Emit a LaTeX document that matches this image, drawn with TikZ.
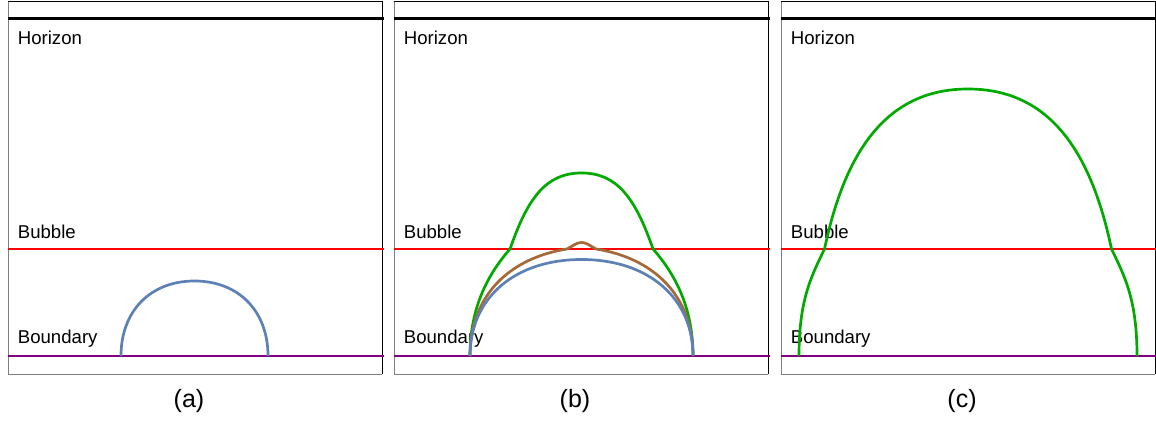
\documentclass[tikz,border=0pt]{standalone}
\usepackage{fontspec}
\setmainfont{Liberation Sans}
\usepackage{tikz}
\usetikzlibrary{positioning}
\usepackage{xcolor}
\definecolor{horcol}{RGB}{0,0,0}
\definecolor{bubcol}{RGB}{255,0,0}
\definecolor{bdycol}{RGB}{128,0,128}
\definecolor{wallcol}{RGB}{94,129,181}
\definecolor{midcol}{RGB}{165,105,55}
\definecolor{topcol}{RGB}{0,170,0}
\tikzset{
  % horizontal level line
  levelline/.style={line width=1.25pt, draw=#1},
  levelline/.default={black},
  % text sitting on a level
  levellabel/.style={anchor=base west, inner sep=0pt, font=\fontsize{9.3}{11}\selectfont},
  % panel caption
  panelcap/.style={inner sep=0pt, font=\fontsize{12.5}{15}\selectfont},
  % profile curve
  profile/.style={line width=1.35pt, draw=#1, line join=round},
  profile/.default={wallcol},
}

\begin{document}
\begin{tikzpicture}[x=0.5pt, y=-0.5pt]
  \useasboundingbox (0,0) rectangle (1156,426);
  % three frames with their levels
  \foreach \x/\lab in {8/a, 394/b, 781/c} {
    \draw[black!50, line width=0.5pt] (\x,2) |- (\x+374,374.5);
    \draw[black, line width=0.5pt] (\x,2) -| (\x+374,374.5);
    \draw[levelline=horcol] (\x-0.5,18.5) -- (\x+376,18.5);
    \draw[levelline=bubcol] (\x-0.5,249) -- (\x+376,249);
    \draw[levelline=bdycol] (\x-0.5,356) -- (\x+376,356);
    \node[levellabel] (hor\lab) at (\x+9.5,45) {Horizon};
    \node[levellabel] (bub\lab) at (\x+9.5,239) {Bubble};
    \node[levellabel] (bdy\lab) at (\x+9.5,344) {Boundary};
    \node[panelcap] (cap\lab) at (\x+181,401) {(\lab)};
  }
  % (a) small wall
  \draw[profile] (121,356) .. controls (121,311) and (150.4,281) .. (194.5,281)
    .. controls (238.6,281) and (268,311) .. (268,356);
  % (b) three profiles
  \draw[profile=topcol] (470,356) .. controls (470,306) and (489,273) .. (510,249)
    .. controls (528,197) and (546.5,173) .. (581.5,173)
    .. controls (616.5,173) and (635,197) .. (653,249)
    .. controls (674,273) and (693,306) .. (693,356);
  \draw[profile=midcol] (470,356) .. controls (470,295) and (510,258) .. (567,249)
    .. controls (573,246) and (576,242.5) .. (581.5,242.5)
    .. controls (587,242.5) and (590,246) .. (596,249)
    .. controls (653,258) and (693,295) .. (693,356);
  \draw[profile] (470,356) .. controls (470,298) and (514.6,259.5) .. (581.5,259.5)
    .. controls (648.4,259.5) and (693,298) .. (693,356);
  % (c) wall past the bubble
  \draw[profile=topcol] (799,356) .. controls (799,300) and (811,277) .. (824.5,249)
    .. controls (845.5,149) and (888,89) .. (968,89)
    .. controls (1048,89) and (1090.5,149) .. (1111.5,249)
    .. controls (1125,277) and (1137,300) .. (1137,356);
\end{tikzpicture}
\end{document}
